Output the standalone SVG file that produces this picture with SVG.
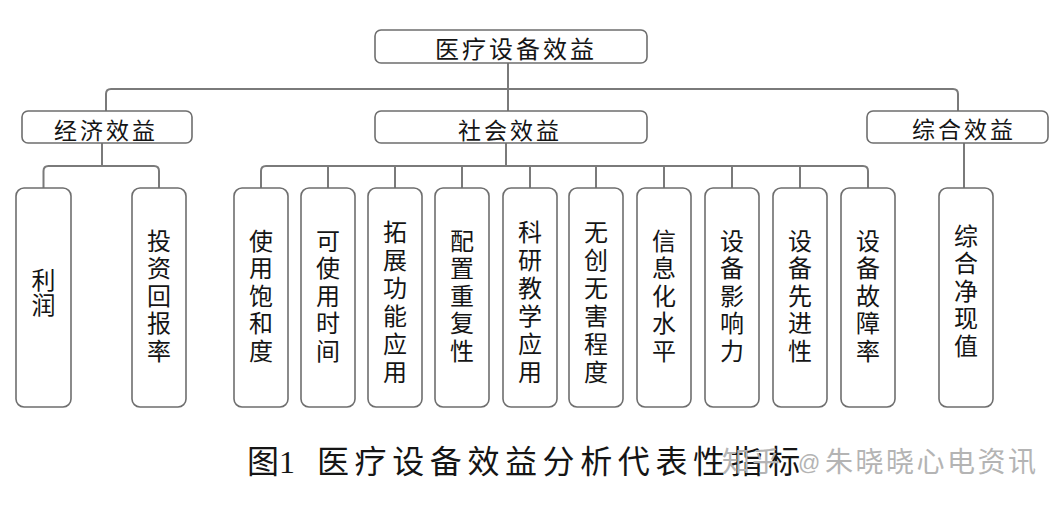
<svg xmlns="http://www.w3.org/2000/svg" width="1064" height="505" viewBox="0 0 1064 505">
<style>
.box{fill:#fff;stroke:#6e6e6e;stroke-width:1.6}
.ln{fill:none;stroke:#7a7a7a;stroke-width:2}
.t{font-family:"Noto Sans CJK SC","Noto Sans CJK JP",sans-serif;fill:#151515;text-anchor:middle;dominant-baseline:central}
.h{font-size:23px;letter-spacing:3px}
.v{font-size:24px;writing-mode:vertical-rl;letter-spacing:3.5px}
.v6{letter-spacing:4px}
.cap{font-family:"Liberation Serif","Noto Sans CJK SC",serif;font-size:32px;fill:#151515}
.wm{font-family:"Noto Sans CJK SC",sans-serif;font-size:28px;fill:#b4b4b4}
</style>
<rect width="1064" height="505" fill="#fff"/>
<g id="connectors">
<path class="ln" d="M508 63 V111"/>
<path class="ln" d="M106 111 V94 Q106 89 111 89 H953 Q958 89 958 94 V111"/>
<path class="ln" d="M102 143 V166"/>
<path class="ln" d="M43.5 188 V171 Q43.5 166 48.5 166 H154 Q159 166 159 171 V188"/>
<path class="ln" d="M506 143 V166"/>
<path class="ln" d="M261 188 V171 Q261 166 266 166 H863 Q868 166 868 171 V188"/>
<path class="ln" d="M328 166 V188 M395 166 V188 M462 166 V188 M530 166 V188 M596 166 V188 M664 166 V188 M732 166 V188 M800 166 V188"/>
<path class="ln" d="M964 143 V188"/>
</g>
<g id="n-root"><rect class="box" x="375" y="30" width="272" height="33" rx="6"/><text class="t h" x="516" y="47" style="font-size:24px">医疗设备效益</text></g>
<g id="n-econ"><rect class="box" x="22" y="111" width="170" height="32" rx="6"/><text class="t h" x="106" y="129">经济效益</text></g>
<g id="n-social"><rect class="box" x="375" y="111" width="272" height="32" rx="6"/><text class="t h" x="510" y="129">社会效益</text></g>
<g id="n-comp"><rect class="box" x="867" y="111" width="181" height="32" rx="6"/><text class="t h" x="964" y="128">综合效益</text></g>
<g id="n-profit"><rect class="box" x="16" y="188" width="55" height="219" rx="8"/><text class="t v" x="43.5" y="293" style="letter-spacing:1px">利润</text></g>
<g id="n-roi"><rect class="box" x="132" y="188" width="54" height="219" rx="8"/><text class="t v" x="159" y="297.5">投资回报率</text></g>
<g id="n-s1"><rect class="box" x="234" y="188" width="54" height="219" rx="8"/><text class="t v" x="261" y="297.5">使用饱和度</text></g>
<g id="n-s2"><rect class="box" x="301" y="188" width="54" height="219" rx="8"/><text class="t v" x="328" y="297.5">可使用时间</text></g>
<g id="n-s3"><rect class="box" x="368" y="188" width="54" height="219" rx="8"/><text class="t v v6" x="395" y="304">拓展功能应用</text></g>
<g id="n-s4"><rect class="box" x="435" y="188" width="54" height="219" rx="8"/><text class="t v" x="462" y="297.5">配置重复性</text></g>
<g id="n-s5"><rect class="box" x="503" y="188" width="54" height="219" rx="8"/><text class="t v v6" x="530" y="304">科研教学应用</text></g>
<g id="n-s6"><rect class="box" x="569" y="188" width="54" height="219" rx="8"/><text class="t v v6" x="596" y="304">无创无害程度</text></g>
<g id="n-s7"><rect class="box" x="637" y="188" width="54" height="219" rx="8"/><text class="t v" x="664" y="297.5">信息化水平</text></g>
<g id="n-s8"><rect class="box" x="705" y="188" width="54" height="219" rx="8"/><text class="t v" x="732" y="297.5">设备影响力</text></g>
<g id="n-s9"><rect class="box" x="773" y="188" width="54" height="219" rx="8"/><text class="t v" x="800" y="297.5">设备先进性</text></g>
<g id="n-s10"><rect class="box" x="841" y="188" width="54" height="219" rx="8"/><text class="t v" x="868" y="297.5">设备故障率</text></g>
<g id="n-npv"><rect class="box" x="939" y="188" width="54" height="219" rx="8"/><text class="t v" x="966" y="292.5">综合净现值</text></g>
<g id="caption">
<text class="cap" x="247" y="473">图</text>
<text class="cap" x="279" y="473">1</text>
<text class="cap" x="317" y="473" style="letter-spacing:5.6px">医疗设备效益分析代表性指标</text>
<text class="wm" x="722" y="472" style="letter-spacing:2px">知乎</text>
<text class="wm" x="798" y="470" style="font-family:'Liberation Sans',sans-serif;font-size:22px">@</text>
<text class="wm" x="825" y="472" style="letter-spacing:2.5px">朱晓晓心电资讯</text>
</g>
</svg>
